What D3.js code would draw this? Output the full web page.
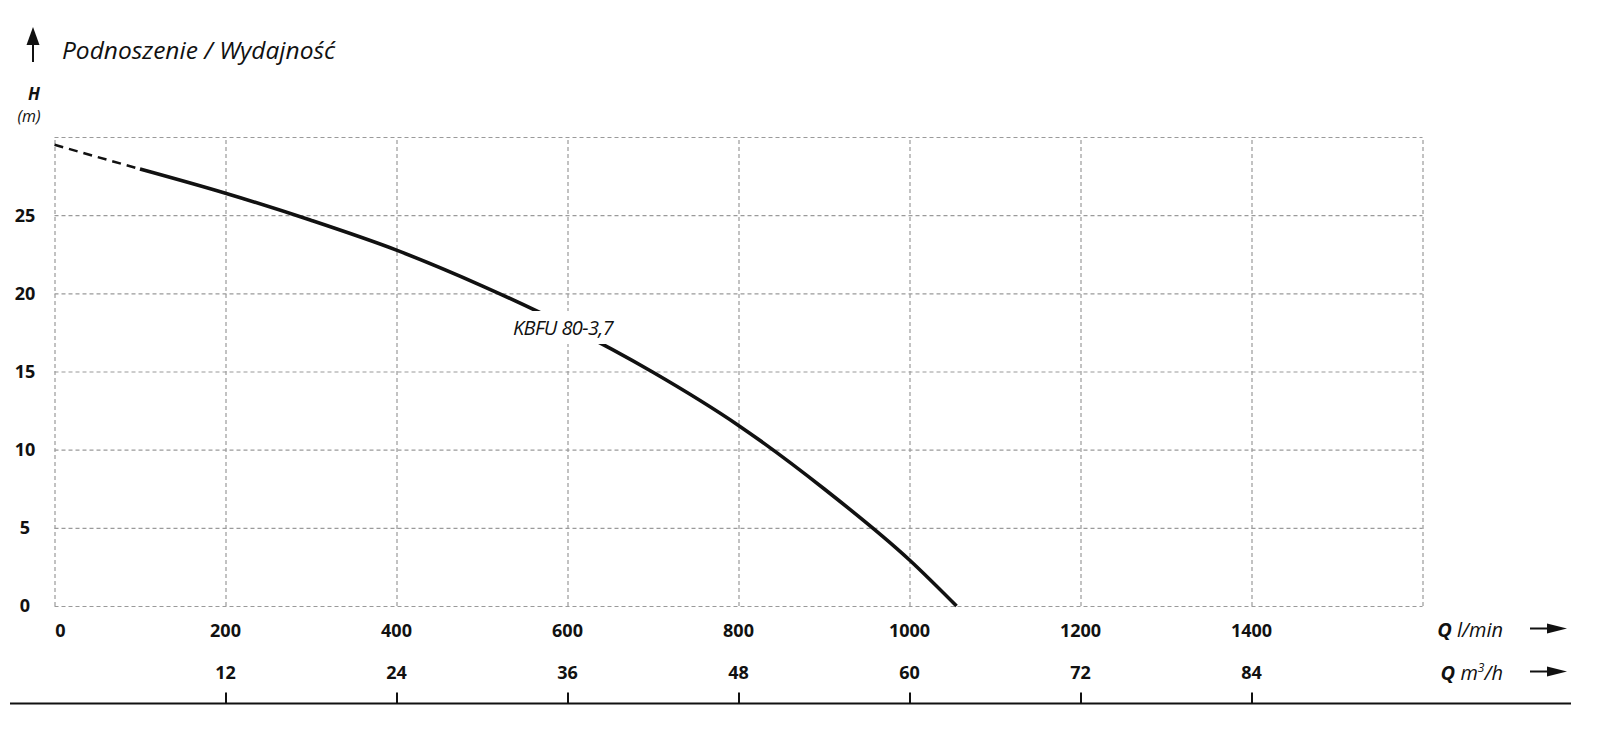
<!DOCTYPE html>
<html>
<head>
<meta charset="utf-8">
<script src="https://cdn.jsdelivr.net/npm/d3@7"></script>
<style>
	body { margin: 0; background: #fff; }
	svg { display: block; font-family: "Open Sans", "Noto Sans", sans-serif; }
</style>
</head>
<body>
<div id="chart"></div>
<script>
/*
Pump curve H(Q) for KBFU 80-3,7.
*/

// flow in l/min, head in m
var flowDashed = [0, 100];
var headDashed = [29.5, 27.95];
var flowSolid = [100, 200, 300, 400, 500, 600, 700, 800, 900, 1000, 1055];
var headSolid = [27.95, 26.4, 24.67, 22.76, 20.48, 17.9, 14.95, 11.55, 7.5, 2.94, 0];

var flowTicks = [0, 200, 400, 600, 800, 1000, 1200, 1400];
var flowGrid = [0, 200, 400, 600, 800, 1000, 1200, 1400, 1600];
var m3hTicks = [12, 24, 36, 48, 60, 72, 84];
var headTicks = [0, 5, 10, 15, 20, 25];
var headGrid = [0, 5, 10, 15, 20, 25, 30];

var seriesName = 'KBFU 80-3,7';
var titleText = 'Podnoszenie / Wydajność';

var W = 1600, H = 730;
var ink = '#111';

var svg = d3.select('#chart')
	.append('svg')
	.attr('width', W)
	.attr('height', H);

var x = d3.scaleLinear().domain([0, 1600]).range([54.5, 1422.5]);
var xm3h = d3.scaleLinear().domain([0, 96]).range([54.5, 1422.5]);
var y = d3.scaleLinear().domain([0, 30]).range([606, 137]);

// dashed grid
svg.append('g')
	.attr('class', 'grid')
	.attr('transform', 'translate(0,' + y(0) + ')')
	.call(d3.axisBottom(x)
		.tickValues(flowGrid)
		.tickSize(-(y(0) - y(30)))
		.tickFormat(''));
svg.append('g')
	.attr('class', 'grid')
	.attr('transform', 'translate(' + x(0) + ',0)')
	.call(d3.axisLeft(y)
		.tickValues(headGrid)
		.tickSize(-(x(1600) - x(0)))
		.tickFormat(''));
svg.selectAll('.grid .domain').remove();
svg.selectAll('.grid line')
	.attr('stroke', '#9a9a9a')
	.attr('stroke-width', 1.2)
	.attr('stroke-dasharray', '4,3');

// y tick labels
svg.append('g')
	.selectAll('text')
	.data(headTicks).enter()
	.append('text')
	.attr('x', 25)
	.attr('y', function(d){ return y(d); })
	.attr('dy', '0.36em')
	.attr('text-anchor', 'middle')
	.attr('font-size', 18)
	.attr('font-weight', 700)
	.attr('fill', ink)
	.text(function(d){ return d; });

// x tick labels, l/min
svg.append('g')
	.selectAll('text')
	.data(flowTicks).enter()
	.append('text')
	.attr('x', function(d){ return x(d) + (d === 0 ? 6 : 0); })
	.attr('y', 637)
	.attr('text-anchor', 'middle')
	.attr('font-size', 18)
	.attr('font-weight', 700)
	.attr('fill', ink)
	.text(function(d){ return d; });

// x tick labels, m3/h
svg.append('g')
	.selectAll('text')
	.data(m3hTicks).enter()
	.append('text')
	.attr('x', function(d){ return xm3h(d); })
	.attr('y', 679)
	.attr('text-anchor', 'middle')
	.attr('font-size', 18)
	.attr('font-weight', 700)
	.attr('fill', ink)
	.text(function(d){ return d; });

// bottom rule with m3/h ticks
svg.append('line')
	.attr('x1', 10).attr('x2', 1571)
	.attr('y1', 703.5).attr('y2', 703.5)
	.attr('stroke', ink)
	.attr('stroke-width', 2);
var bottomAxis = svg.append('g')
	.attr('transform', 'translate(0,703.5)')
	.call(d3.axisBottom(xm3h)
		.tickValues(m3hTicks)
		.tickSize(-11)
		.tickFormat(''));
bottomAxis.select('.domain').remove();
bottomAxis.selectAll('line')
	.attr('stroke', ink)
	.attr('stroke-width', 2);

// curve
var line = d3.line()
	.x(function(d){ return x(d[0]); })
	.y(function(d){ return y(d[1]); })
	.curve(d3.curveMonotoneX);

svg.append('path')
	.datum(d3.zip(flowDashed, headDashed))
	.attr('d', line)
	.attr('fill', 'none')
	.attr('stroke', ink)
	.attr('stroke-width', 2.5)
	.attr('stroke-dasharray', '9,6');

svg.append('path')
	.datum(d3.zip(flowSolid, headSolid))
	.attr('d', line)
	.attr('fill', 'none')
	.attr('stroke', ink)
	.attr('stroke-width', 3.6);

// series label sits on a white patch that cuts the curve
var labelG = svg.append('g');
var labelBg = labelG.append('rect').attr('fill', '#fff');
var label = labelG.append('text')
	.attr('x', 563)
	.attr('y', 335)
	.attr('text-anchor', 'middle')
	.attr('font-size', 20)
	.attr('font-style', 'italic')
	.attr('fill', ink)
	.attr('letter-spacing', -0.6)
	.text(seriesName);
var bb = label.node().getBBox();
labelBg
	.attr('x', bb.x - 4)
	.attr('y', bb.y - 3)
	.attr('width', bb.width + 8)
	.attr('height', bb.height + 6);

// title with up arrow
svg.append('line')
	.attr('x1', 33).attr('x2', 33)
	.attr('y1', 40).attr('y2', 62)
	.attr('stroke', ink)
	.attr('stroke-width', 2);
svg.append('path')
	.attr('d', 'M33,27 L39.5,45 L26.5,45 Z')
	.attr('fill', ink);
svg.append('text')
	.attr('x', 62)
	.attr('y', 59)
	.attr('font-size', 24.5)
	.attr('font-style', 'italic')
	.attr('fill', ink)
	.text(titleText);

svg.append('text')
	.attr('x', 34)
	.attr('y', 100)
	.attr('text-anchor', 'middle')
	.attr('font-size', 17)
	.attr('font-weight', 700)
	.attr('font-style', 'italic')
	.attr('fill', ink)
	.text('H');
svg.append('text')
	.attr('x', 29)
	.attr('y', 122)
	.attr('text-anchor', 'middle')
	.attr('font-size', 16)
	.attr('font-style', 'italic')
	.attr('fill', ink)
	.text('(m)');

// Q unit labels with right arrows
function unitLabel(yBase, unit, sup) {
	var t = svg.append('text')
		.attr('x', 1503)
		.attr('y', yBase)
		.attr('text-anchor', 'end')
		.attr('font-size', 20)
		.attr('fill', ink);
	t.append('tspan')
		.attr('font-weight', 700)
		.attr('font-style', 'italic')
		.text('Q ');
	t.append('tspan')
		.attr('font-style', 'italic')
		.text(unit);
	if (sup) {
		t.append('tspan')
			.attr('font-style', 'italic')
			.attr('font-size', 12)
			.attr('dy', -8)
			.text(sup.text);
		t.append('tspan')
			.attr('font-style', 'italic')
			.attr('dy', 8)
			.text(sup.rest);
	}
	var ay = yBase - 8.5;
	svg.append('line')
		.attr('x1', 1530).attr('x2', 1552)
		.attr('y1', ay).attr('y2', ay)
		.attr('stroke', ink)
		.attr('stroke-width', 2);
	svg.append('path')
		.attr('d', 'M1567,' + ay + ' L1547,' + (ay - 5) + ' L1547,' + (ay + 5) + ' Z')
		.attr('fill', ink);
}
unitLabel(637, 'l/min');
unitLabel(680, 'm', {text: '3', rest: '/h'});
</script>
</body>
</html>
